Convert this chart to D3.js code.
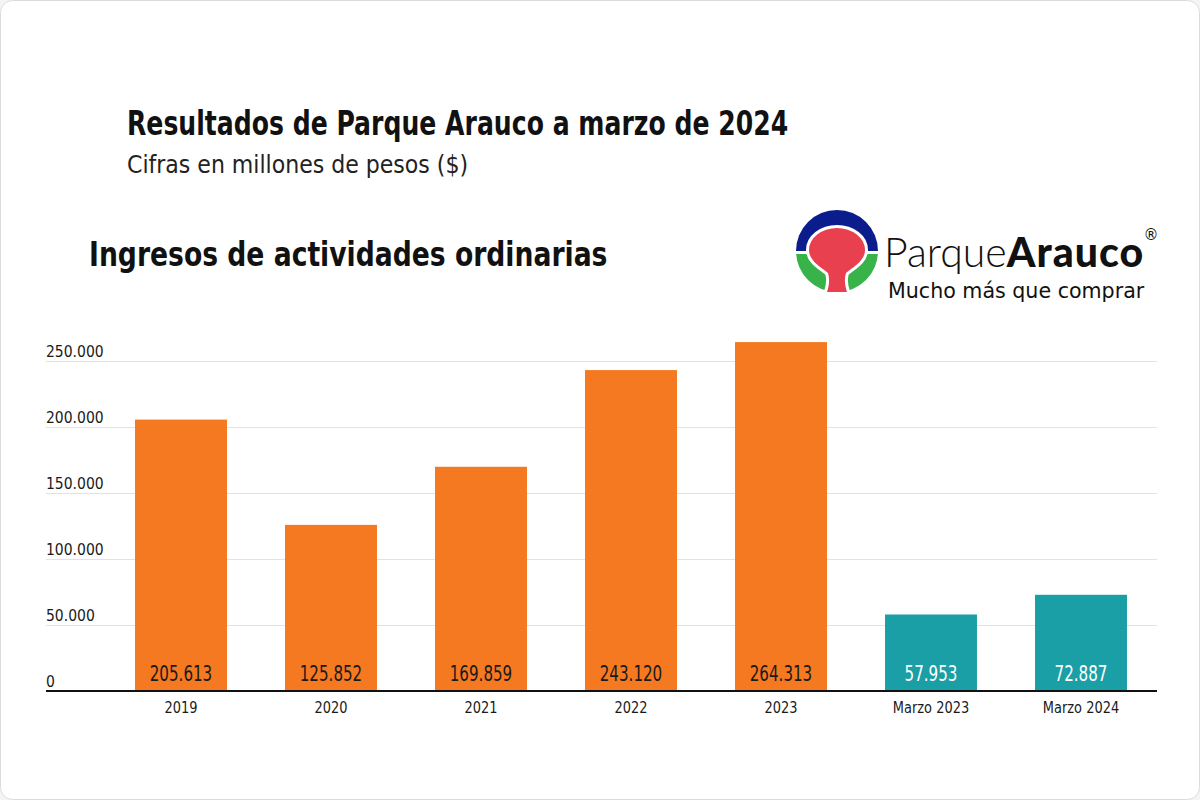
<!DOCTYPE html>
<html>
<head>
<meta charset="utf-8">
<script src="https://cdn.jsdelivr.net/npm/d3@7"></script>
<style>
  body { margin: 0; background: #f4f4f4; }
  svg { display: block; }
  .cond { font-family: "Liberation Sans Narrow", "DejaVu Sans Condensed", "Roboto", sans-serif; }
</style>
</head>
<body>
<svg id="chart" width="1200" height="800"></svg>
<script>
// data
var categories = ["2019", "2020", "2021", "2022", "2023", "Marzo 2023", "Marzo 2024"];
var values = [205613, 125852, 169859, 243120, 264313, 57953, 72887];
var periods = ["anual", "anual", "anual", "anual", "anual", "trimestre", "trimestre"];
var yTicks = [0, 50000, 100000, 150000, 200000, 250000];

var title = "Resultados de Parque Arauco a marzo de 2024";
var subtitle = "Cifras en millones de pesos ($)";
var chartTitle = "Ingresos de actividades ordinarias";

var es = d3.formatLocale({ decimal: ",", thousands: ".", grouping: [3], currency: ["$", ""] });
var fmt = es.format(",");

// squeeze a text so the fallback font looks like the narrow original
function condense(sel, k) {
    sel.each(function () {
        var len = this.getComputedTextLength();
        d3.select(this)
            .attr("textLength", len * k)
            .attr("lengthAdjust", "spacingAndGlyphs");
    });
}

var svg = d3.select("#chart");

// card
svg.append("rect")
    .attr("x", 0.5).attr("y", 0.5)
    .attr("width", 1199).attr("height", 799)
    .attr("rx", 12)
    .attr("fill", "#fff")
    .attr("stroke", "#dcdcdc");

svg.append("text")
    .attr("class", "cond")
    .attr("x", 127).attr("y", 135)
    .style("font-size", "33px").style("font-weight", "bold")
    .attr("fill", "#111")
    .text(title)
    .call(condense, 0.846);

svg.append("text")
    .attr("class", "cond")
    .attr("x", 127).attr("y", 173)
    .style("font-size", "25px")
    .attr("fill", "#222")
    .text(subtitle)
    .call(condense, 0.98);

svg.append("text")
    .attr("class", "cond")
    .attr("x", 89).attr("y", 266)
    .style("font-size", "34px").style("font-weight", "bold")
    .attr("fill", "#111")
    .text(chartTitle)
    .call(condense, 0.87);

// logo
var logo = svg.append("g").attr("transform", "translate(837,251)");
var arc = d3.arc();
logo.append("path")
    .attr("d", arc({ innerRadius: 0, outerRadius: 41, startAngle: -Math.PI / 2, endAngle: Math.PI / 2 }))
    .attr("fill", "#0b1d8c");
logo.append("path")
    .attr("d", arc({ innerRadius: 0, outerRadius: 41, startAngle: Math.PI / 2, endAngle: Math.PI * 1.5 }))
    .attr("fill", "#37b34a");
logo.append("rect")
    .attr("x", -42).attr("y", 0).attr("width", 84).attr("height", 3)
    .attr("fill", "#fff");
var cap = "M-28,-1 A28,22 0 0 1 28,-1 C28,10 16,16 9,22 C7,28 8,35 10,41 L-10,41 C-8,35 -7,28 -9,22 C-16,16 -28,10 -28,-1 Z";
logo.append("path")
    .attr("d", cap)
    .attr("fill", "none")
    .attr("stroke", "#fff").attr("stroke-width", 6)
    .attr("stroke-linejoin", "round");
logo.append("path")
    .attr("d", cap)
    .attr("fill", "#e8404f");

var brand = svg.append("text")
    .attr("x", 884).attr("y", 267)
    .style("font-family", "Lato, 'Open Sans', sans-serif")
    .style("font-size", "41px")
    .attr("fill", "#111");
brand.append("tspan").style("font-weight", 300).text("Parque");
brand.append("tspan").style("font-weight", 900).attr("letter-spacing", 1).text("Arauco");
svg.append("text")
    .attr("x", 1151).attr("y", 240)
    .attr("text-anchor", "middle")
    .style("font-family", "DejaVu Sans, sans-serif")
    .style("font-size", "15px")
    .attr("fill", "#111")
    .text("®");
svg.append("text")
    .attr("x", 888).attr("y", 298)
    .style("font-family", "DejaVu Sans, sans-serif")
    .style("font-size", "20.6px")
    .attr("fill", "#111")
    .text("Mucho más que comprar");

// chart
var x = d3.scaleBand()
    .domain(categories)
    .range([106, 1156])
    .paddingInner(0.387)
    .paddingOuter(0.1935);

var y = d3.scaleLinear()
    .domain([0, 250000])
    .range([691, 361]);

var color = d3.scaleOrdinal()
    .domain(["anual", "trimestre"])
    .range(["#f47920", "#1a9fa6"]);
var labelColor = d3.scaleOrdinal()
    .domain(["anual", "trimestre"])
    .range(["#1a1a1a", "#ffffff"]);

var yAxis = d3.axisLeft(y)
    .tickValues(yTicks)
    .tickSize(0)
    .tickFormat(fmt);

var gy = svg.append("g").attr("class", "cond").call(yAxis);
gy.select(".domain").remove();
gy.selectAll(".tick line")
    .attr("x1", 46).attr("x2", 1157)
    .attr("stroke", "#e2e2e2");
gy.selectAll(".tick text")
    .attr("x", 46).attr("dy", -5)
    .attr("text-anchor", "start")
    .style("font-size", "15.5px")
    .style("font-family", "inherit")
    .attr("fill", "#1a1a1a");

var data = categories.map(function (c, i) {
    return { cat: c, value: values[i], period: periods[i] };
});

svg.append("g")
    .selectAll("rect")
    .data(data)
    .enter()
    .append("rect")
    .attr("x", function (d) { return x(d.cat); })
    .attr("y", function (d) { return y(d.value); })
    .attr("width", x.bandwidth())
    .attr("height", function (d) { return y(0) - y(d.value); })
    .attr("fill", function (d) { return color(d.period); });

svg.append("g")
    .attr("class", "cond")
    .selectAll("text")
    .data(data)
    .enter()
    .append("text")
    .attr("x", function (d) { return x(d.cat) + x.bandwidth() / 2; })
    .attr("y", y(0) - 10)
    .attr("text-anchor", "middle")
    .style("font-size", "21px")
    .attr("fill", function (d) { return labelColor(d.period); })
    .text(function (d) { return fmt(d.value); })
    .call(condense, 0.8);

var xAxis = d3.axisBottom(x).tickSize(0).tickPadding(11);
var gx = svg.append("g")
    .attr("class", "cond")
    .attr("transform", "translate(0," + y(0) + ")")
    .call(xAxis);
gx.select(".domain").remove();
gx.selectAll(".tick text")
    .style("font-size", "15.5px")
    .style("font-family", "inherit")
    .attr("fill", "#1a1a1a")
    .call(condense, 0.93);

svg.append("line")
    .attr("x1", 46).attr("x2", 1157)
    .attr("y1", y(0)).attr("y2", y(0))
    .attr("stroke", "#111")
    .attr("stroke-width", 2);
</script>
</body>
</html>
